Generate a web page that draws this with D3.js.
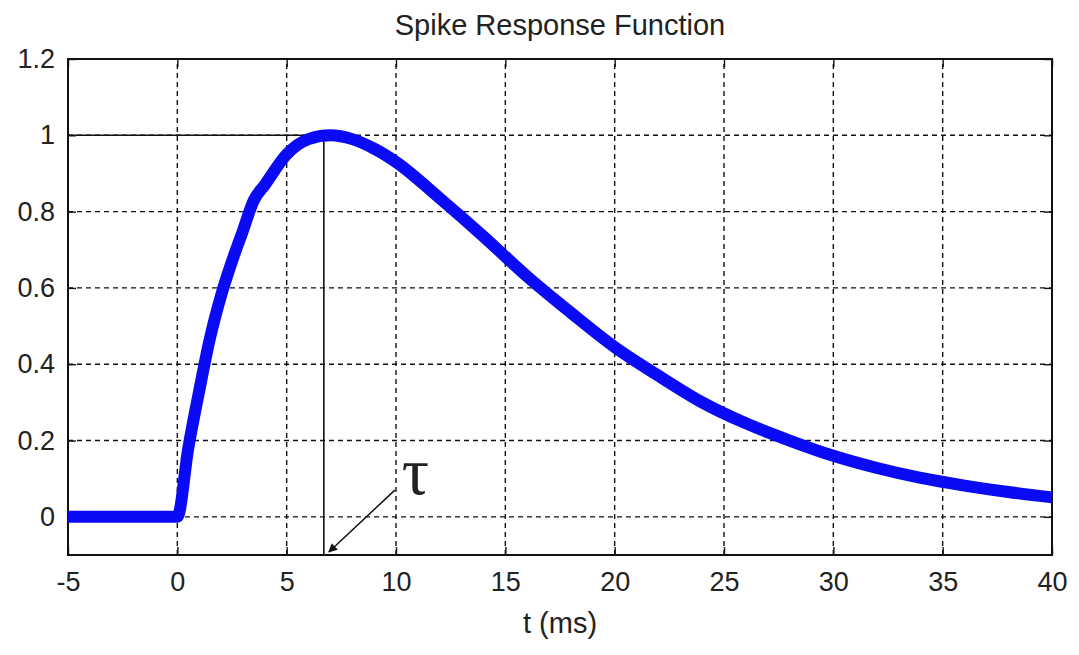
<!DOCTYPE html>
<meta charset="utf-8">
<script src="https://d3js.org/d3.v7.min.js"></script>
<style>
  body { margin: 0; background: #fff; }
  text { font-family: "Liberation Sans", Arial, sans-serif; fill: #222; }
</style>
<div id="chart"></div>
<script>

// values
var tValues = [-5, 0, 0.5, 1, 1.5, 2, 2.5, 3, 3.5, 4, 5, 6, 7, 8, 9, 10, 12, 14, 16, 18, 20, 22, 24, 26, 28, 30, 32, 34, 36, 38, 40];
var yValues = [0, 0, 0.18, 0.33, 0.47, 0.58, 0.67, 0.75, 0.83, 0.87, 0.95, 0.99, 1.0, 0.99, 0.965, 0.93, 0.835, 0.735, 0.63, 0.535, 0.445, 0.37, 0.3, 0.245, 0.2, 0.16, 0.128, 0.102, 0.082, 0.065, 0.051];
var xTicks = [-5, 0, 5, 10, 15, 20, 25, 30, 35, 40];
var yTicks = [0, 0.2, 0.4, 0.6, 0.8, 1, 1.2];
var tau = 6.7;

var width = 1079, height = 655,
  margin = {top: 59, right: 27, bottom: 100, left: 68};

var svg = d3.select("#chart")
  .append("svg")
    .attr("width", width)
    .attr("height", height);

var x = d3.scaleLinear().domain([-5, 40]).range([margin.left, width - margin.right]);
var y = d3.scaleLinear().domain([-0.1, 1.2]).range([height - margin.bottom, margin.top]);

// dashed grid
svg.append("g")
  .selectAll("line")
  .data(xTicks)
  .enter()
  .append("line")
    .attr("x1", function(d){ return x(d) })
    .attr("x2", function(d){ return x(d) })
    .attr("y1", y(-0.1))
    .attr("y2", y(1.2))
    .attr("stroke", "#111")
    .attr("stroke-width", 1.4)
    .attr("stroke-dasharray", "5,4")

svg.append("g")
  .selectAll("line")
  .data(yTicks)
  .enter()
  .append("line")
    .attr("x1", x(-5))
    .attr("x2", x(40))
    .attr("y1", function(d){ return y(d) })
    .attr("y2", function(d){ return y(d) })
    .attr("stroke", "#111")
    .attr("stroke-width", 1.4)
    .attr("stroke-dasharray", "5,4")

// axes, ticks pointing inward
var xAxis = d3.axisBottom(x).tickValues(xTicks).tickSizeInner(-8).tickSizeOuter(0).tickPadding(17)
  .tickFormat(function(d){ return String(d) });
var yAxis = d3.axisLeft(y).tickValues(yTicks).tickSizeInner(-8).tickSizeOuter(0).tickPadding(13)
  .tickFormat(function(d){ return String(d) });

svg.append("g")
  .attr("transform", "translate(0," + y(-0.1) + ")")
  .call(xAxis)
  .call(function(g){ g.select(".domain").remove() })
  .selectAll("text").style("font-size", "27px").attr("fill", "#222");

svg.append("g")
  .attr("transform", "translate(" + x(-5) + ",0)")
  .call(yAxis)
  .call(function(g){ g.select(".domain").remove() })
  .selectAll("text").style("font-size", "27px").attr("fill", "#222");

// top axis ticks and right axis ticks
svg.append("g")
  .attr("transform", "translate(0," + y(1.2) + ")")
  .call(d3.axisTop(x).tickValues(xTicks).tickSizeInner(-8).tickSizeOuter(0).tickFormat(""))
  .call(function(g){ g.select(".domain").remove() });
svg.append("g")
  .attr("transform", "translate(" + x(40) + ",0)")
  .call(d3.axisRight(y).tickValues(yTicks).tickSizeInner(-8).tickSizeOuter(0).tickFormat(""))
  .call(function(g){ g.select(".domain").remove() });

svg.selectAll(".tick line").attr("stroke", "#111").attr("stroke-width", 1.4);

// box
svg.append("rect")
  .attr("x", x(-5))
  .attr("y", y(1.2))
  .attr("width", x(40) - x(-5))
  .attr("height", y(-0.1) - y(1.2))
  .attr("fill", "none")
  .attr("stroke", "#111")
  .attr("stroke-width", 2)

// tau marker lines
svg.append("path")
  .attr("d", "M" + x(-5) + "," + y(1) + "H" + x(tau) + "V" + y(-0.1))
  .attr("fill", "none")
  .attr("stroke", "#111")
  .attr("stroke-width", 1.6)

// curve
var pts = tValues.map(function(t, i){ return [t, yValues[i]] });
var line = d3.line()
  .x(function(d){ return x(d[0]) })
  .y(function(d){ return y(d[1]) })
  .curve(d3.curveMonotoneX);

svg.append("path")
  .datum(pts)
  .attr("d", line)
  .attr("fill", "none")
  .attr("stroke", "#0a0af5")
  .attr("stroke-width", 12)
  .attr("stroke-linejoin", "round")

// arrow
svg.append("defs").append("marker")
  .attr("id", "arrow")
  .attr("viewBox", "0 0 10 10")
  .attr("refX", 9).attr("refY", 5)
  .attr("markerWidth", 18).attr("markerHeight", 9)
  .attr("markerUnits", "userSpaceOnUse")
  .attr("orient", "auto")
  .append("path")
    .attr("d", "M0,0 L10,5 L0,10 Z")
    .attr("fill", "#111")

svg.append("line")
  .attr("x1", x(tau) + 71)
  .attr("y1", y(0.07))
  .attr("x2", x(tau) + 5)
  .attr("y2", y(-0.1) - 3)
  .attr("stroke", "#111")
  .attr("stroke-width", 1.5)
  .attr("marker-end", "url(#arrow)")

svg.append("text")
  .attr("x", x(tau) + 78)
  .attr("y", 494)
  .style("font-family", "'Liberation Serif', 'Times New Roman', serif")
  .style("font-size", "68px")
  .attr("fill", "#111")
  .text("τ")

// labels
svg.append("text")
  .attr("x", (x(-5) + x(40)) / 2)
  .attr("y", 35)
  .attr("text-anchor", "middle")
  .style("font-size", "29px")
  .text("Spike Response Function")

svg.append("text")
  .attr("x", (x(-5) + x(40)) / 2)
  .attr("y", 633)
  .attr("text-anchor", "middle")
  .style("font-size", "29px")
  .text("t (ms)")

</script>
